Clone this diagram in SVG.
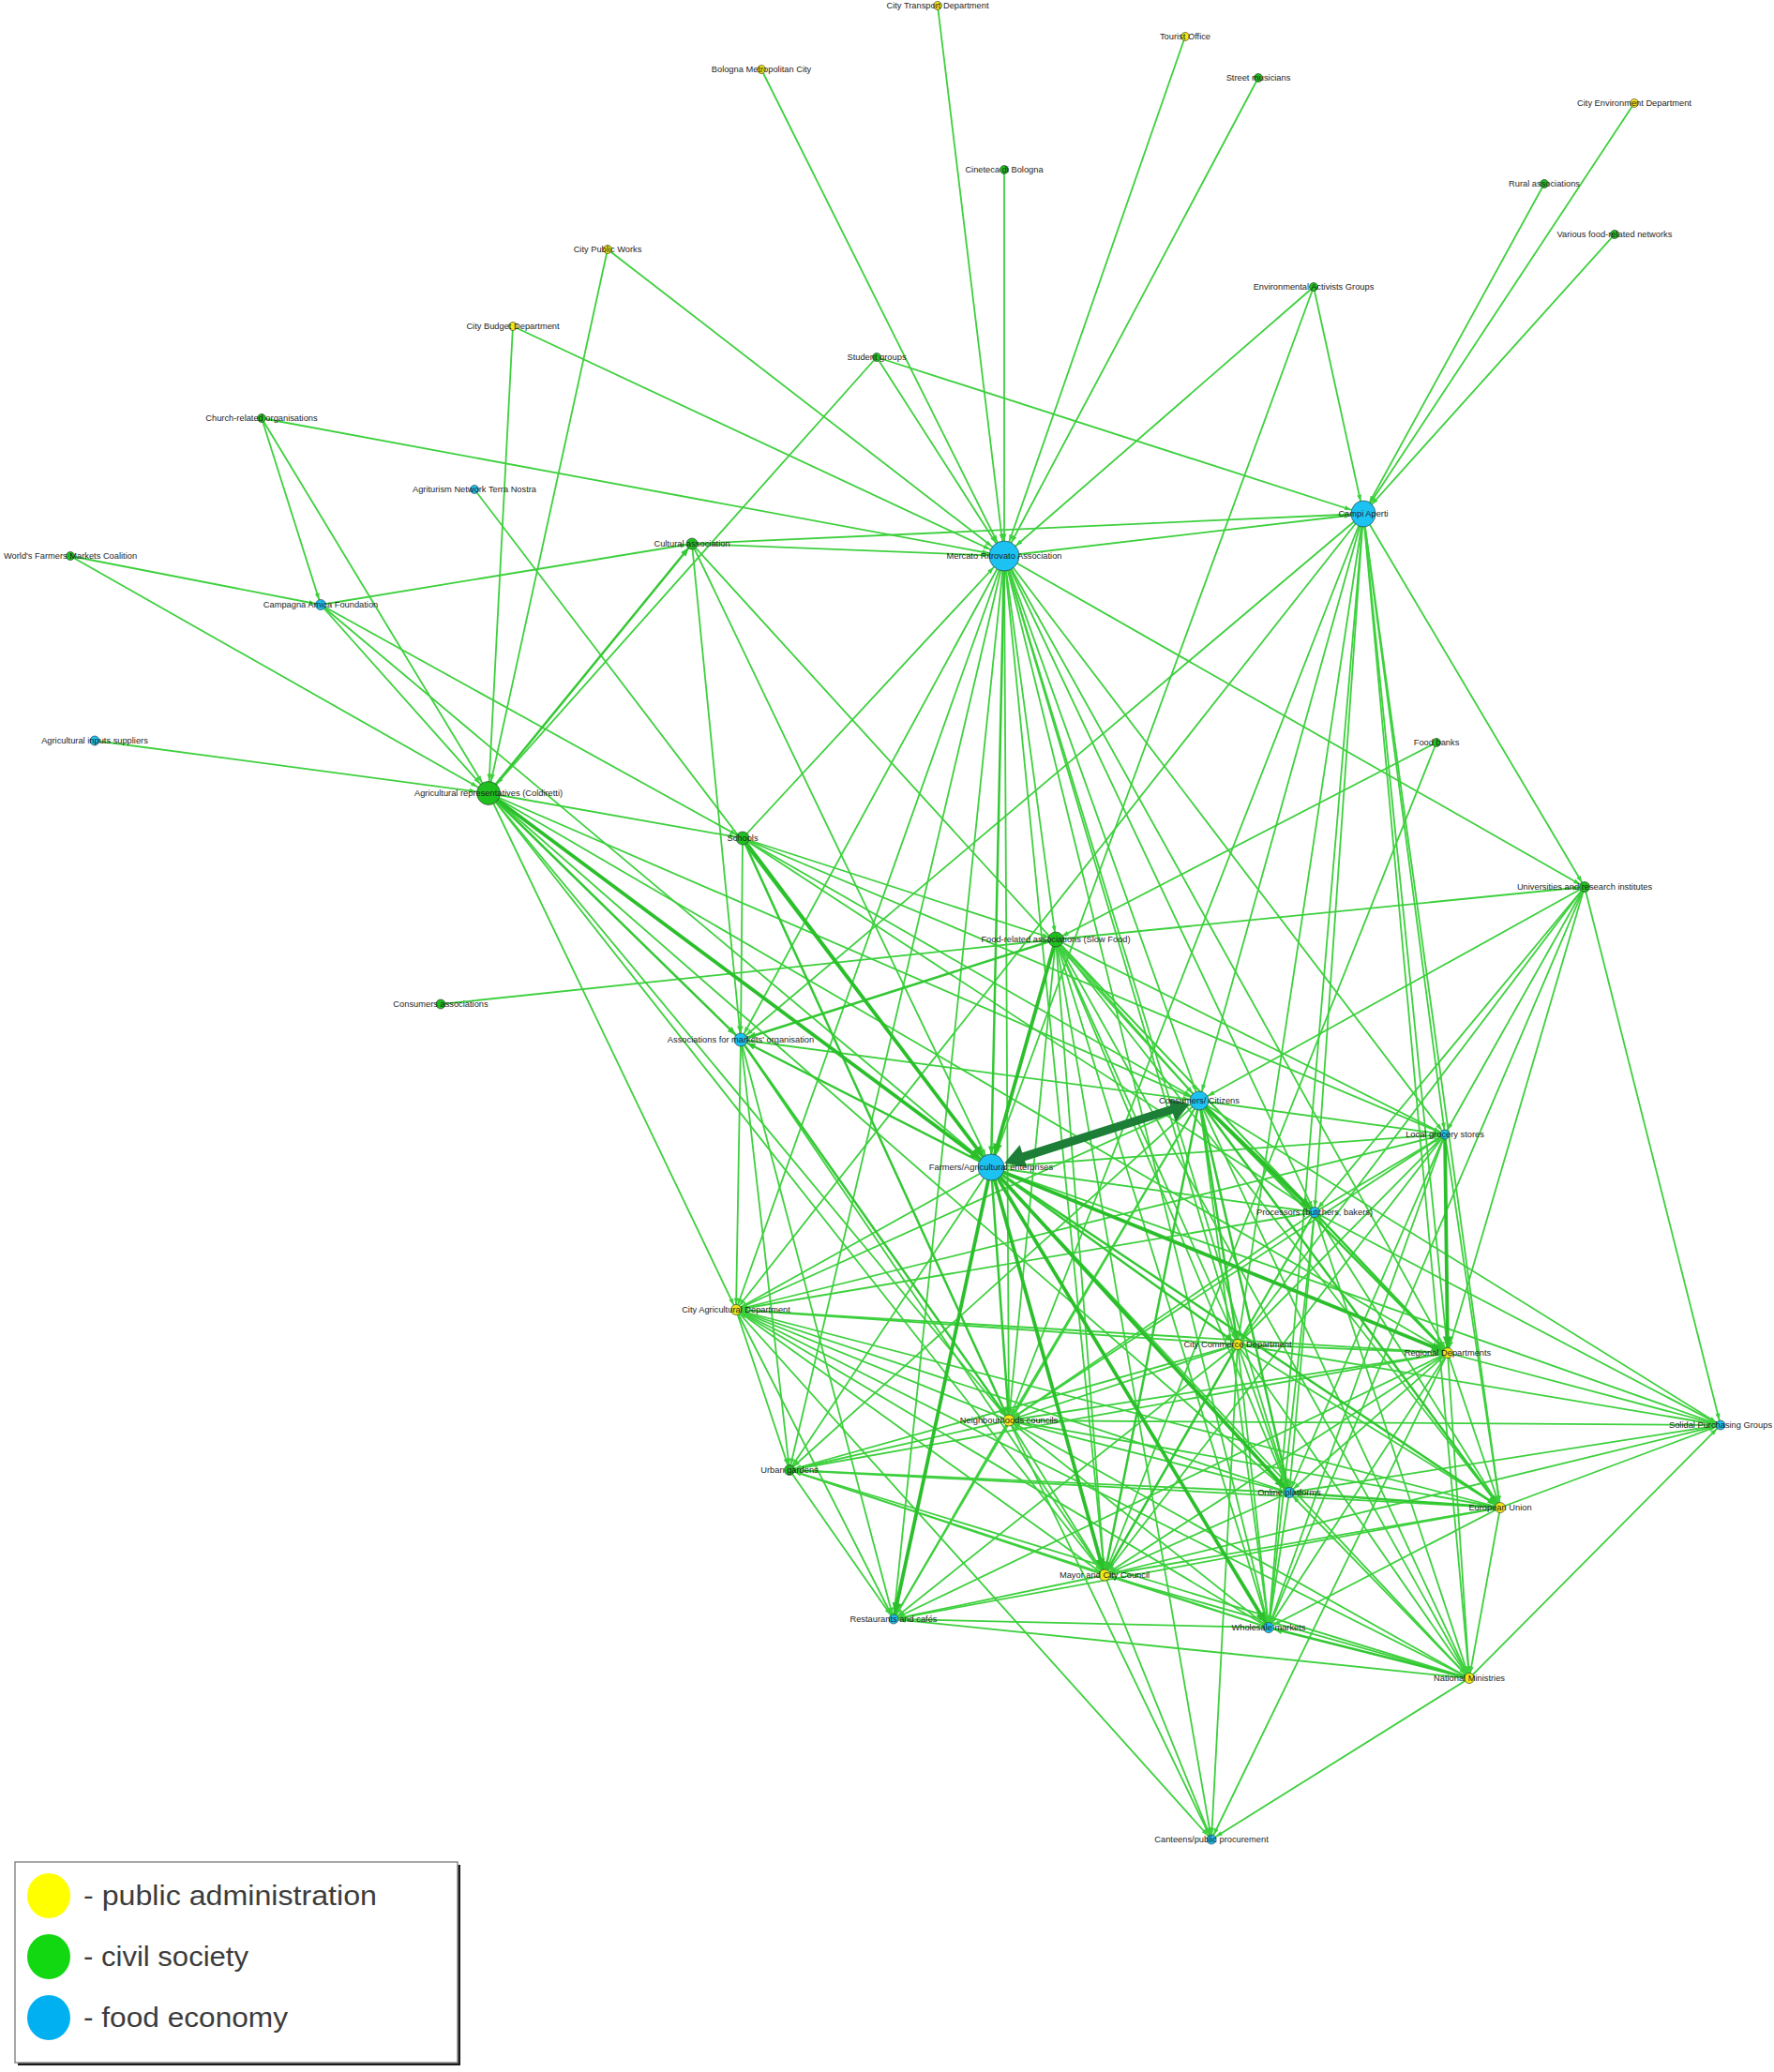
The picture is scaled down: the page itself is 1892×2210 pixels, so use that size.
<svg xmlns="http://www.w3.org/2000/svg" width="1892" height="2210" viewBox="0 0 1892 2210">
<defs>
<style>
.t{stroke:#3dd03d;stroke-width:1.8;fill:none}
.m{stroke:#33c833;stroke-width:2.5;fill:none}
.k{stroke:#2cbf2c;stroke-width:3.8;fill:none}
.n circle{stroke:#2d2d2d;stroke-width:0.6}
.y{fill:#f2e818}
.g{fill:#1fbf1f}
.b{fill:#1cc2f2}
.n text{font-family:"Liberation Sans",Arial,sans-serif;font-size:9.3px;fill:#1e1e1e;text-anchor:middle}
.lg{font-family:"Liberation Sans",Arial,sans-serif;font-size:30px;fill:#3c3c3c}
</style>
<marker id="a5" markerUnits="userSpaceOnUse" markerWidth="7" markerHeight="5" refX="12.5" refY="2.5" orient="auto" overflow="visible"><path d="M0,0 L7,2.5 L0,5 z" fill="#3dd03d"/></marker>
<marker id="a7" markerUnits="userSpaceOnUse" markerWidth="7" markerHeight="5" refX="14.5" refY="2.5" orient="auto" overflow="visible"><path d="M0,0 L7,2.5 L0,5 z" fill="#3dd03d"/></marker>
<marker id="a10" markerUnits="userSpaceOnUse" markerWidth="7" markerHeight="5" refX="17.5" refY="2.5" orient="auto" overflow="visible"><path d="M0,0 L7,2.5 L0,5 z" fill="#3dd03d"/></marker>
<marker id="a13" markerUnits="userSpaceOnUse" markerWidth="7" markerHeight="5" refX="20.5" refY="2.5" orient="auto" overflow="visible"><path d="M0,0 L7,2.5 L0,5 z" fill="#3dd03d"/></marker>
<marker id="a16" markerUnits="userSpaceOnUse" markerWidth="7" markerHeight="5" refX="23.5" refY="2.5" orient="auto" overflow="visible"><path d="M0,0 L7,2.5 L0,5 z" fill="#3dd03d"/></marker>
<marker id="c5" markerUnits="userSpaceOnUse" markerWidth="9" markerHeight="7" refX="14.5" refY="3.5" orient="auto" overflow="visible"><path d="M0,0 L9,3.5 L0,7 z" fill="#33c833"/></marker>
<marker id="c7" markerUnits="userSpaceOnUse" markerWidth="9" markerHeight="7" refX="16.5" refY="3.5" orient="auto" overflow="visible"><path d="M0,0 L9,3.5 L0,7 z" fill="#33c833"/></marker>
<marker id="c13" markerUnits="userSpaceOnUse" markerWidth="9" markerHeight="7" refX="22.5" refY="3.5" orient="auto" overflow="visible"><path d="M0,0 L9,3.5 L0,7 z" fill="#33c833"/></marker>
<marker id="b5" markerUnits="userSpaceOnUse" markerWidth="12" markerHeight="10" refX="17.5" refY="5" orient="auto" overflow="visible"><path d="M0,0 L12,5 L0,10 z" fill="#2cbf2c"/></marker>
<marker id="b13" markerUnits="userSpaceOnUse" markerWidth="12" markerHeight="10" refX="25.5" refY="5" orient="auto" overflow="visible"><path d="M0,0 L12,5 L0,10 z" fill="#2cbf2c"/></marker>
</defs>
<rect width="1892" height="2210" fill="#ffffff"/>

<g id="connectors">
<g class="t" marker-end="url(#a16)">
<line x1="1000" y1="6" x2="1071" y2="593"/>
<line x1="1264" y1="39" x2="1071" y2="593"/>
<line x1="812" y1="74" x2="1071" y2="593"/>
<line x1="1342" y1="83" x2="1071" y2="593"/>
<line x1="1071" y1="181" x2="1071" y2="593"/>
<line x1="648" y1="266" x2="1071" y2="593"/>
<line x1="547" y1="348" x2="1071" y2="593"/>
<line x1="279" y1="446" x2="1071" y2="593"/>
<line x1="935" y1="381" x2="1071" y2="593"/>
<line x1="1401" y1="306" x2="1071" y2="593"/>
<line x1="738" y1="580" x2="1071" y2="593"/>
<line x1="792" y1="894" x2="1071" y2="593"/>
</g>
<g class="t" marker-end="url(#a13)">
<line x1="648" y1="266" x2="521" y2="846"/>
<line x1="547" y1="348" x2="521" y2="846"/>
<line x1="279" y1="446" x2="521" y2="846"/>
<line x1="935" y1="381" x2="521" y2="846"/>
<line x1="75" y1="593" x2="521" y2="846"/>
<line x1="101" y1="790" x2="521" y2="846"/>
<line x1="342" y1="645" x2="521" y2="846"/>
<line x1="935" y1="381" x2="1454" y2="548"/>
<line x1="1743" y1="110" x2="1454" y2="548"/>
<line x1="1647" y1="196" x2="1454" y2="548"/>
<line x1="1722" y1="250" x2="1454" y2="548"/>
<line x1="1401" y1="306" x2="1454" y2="548"/>
<line x1="738" y1="580" x2="1454" y2="548"/>
<line x1="1071" y1="593" x2="1454" y2="548"/>
<line x1="506" y1="522" x2="1057" y2="1245"/>
<line x1="1401" y1="306" x2="1057" y2="1245"/>
<line x1="342" y1="645" x2="1057" y2="1245"/>
<line x1="738" y1="580" x2="1057" y2="1245"/>
</g>
<g class="t" marker-end="url(#a10)">
<line x1="738" y1="580" x2="1279" y2="1174"/>
<line x1="792" y1="894" x2="1279" y2="1174"/>
<line x1="521" y1="846" x2="1279" y2="1174"/>
<line x1="1454" y1="548" x2="1279" y2="1174"/>
<line x1="1071" y1="593" x2="1279" y2="1174"/>
<line x1="1126" y1="1002" x2="1279" y2="1174"/>
<line x1="1690" y1="946" x2="1279" y2="1174"/>
<line x1="790" y1="1109" x2="1279" y2="1174"/>
</g>
<g class="t" marker-end="url(#a7)">
<line x1="521" y1="846" x2="792" y2="894"/>
<line x1="342" y1="645" x2="792" y2="894"/>
<line x1="738" y1="580" x2="790" y2="1109"/>
<line x1="792" y1="894" x2="790" y2="1109"/>
<line x1="1454" y1="548" x2="790" y2="1109"/>
<line x1="1071" y1="593" x2="790" y2="1109"/>
<line x1="470" y1="1071" x2="1126" y2="1002"/>
<line x1="1532" y1="792" x2="1126" y2="1002"/>
<line x1="792" y1="894" x2="1126" y2="1002"/>
<line x1="1071" y1="593" x2="1126" y2="1002"/>
</g>
<g class="t" marker-end="url(#a5)">
<line x1="279" y1="446" x2="342" y2="645"/>
<line x1="75" y1="593" x2="342" y2="645"/>
<line x1="342" y1="645" x2="738" y2="580"/>
<line x1="1532" y1="792" x2="1178" y2="1680"/>
<line x1="1071" y1="593" x2="1690" y2="946"/>
<line x1="792" y1="894" x2="1402" y2="1293"/>
<line x1="792" y1="894" x2="1541" y2="1210"/>
<line x1="521" y1="846" x2="1544" y2="1443"/>
<line x1="521" y1="846" x2="1375" y2="1592"/>
<line x1="521" y1="846" x2="1076" y2="1515"/>
<line x1="521" y1="846" x2="1178" y2="1680"/>
<line x1="521" y1="846" x2="785" y2="1397"/>
<line x1="1454" y1="548" x2="785" y2="1397"/>
<line x1="1454" y1="548" x2="1076" y2="1515"/>
<line x1="1454" y1="548" x2="1320" y2="1434"/>
<line x1="1454" y1="548" x2="1353" y2="1736"/>
<line x1="1454" y1="548" x2="1402" y2="1293"/>
<line x1="1454" y1="548" x2="1544" y2="1443"/>
<line x1="1454" y1="548" x2="1541" y2="1210"/>
<line x1="1454" y1="548" x2="1600" y2="1608"/>
<line x1="1454" y1="548" x2="1690" y2="946"/>
<line x1="1454" y1="548" x2="1567" y2="1790"/>
<line x1="1071" y1="593" x2="785" y2="1397"/>
<line x1="1071" y1="593" x2="842" y2="1568"/>
<line x1="1071" y1="593" x2="1076" y2="1515"/>
<line x1="1071" y1="593" x2="1178" y2="1680"/>
<line x1="1071" y1="593" x2="1402" y2="1293"/>
<line x1="1071" y1="593" x2="1320" y2="1434"/>
<line x1="1071" y1="593" x2="1375" y2="1592"/>
<line x1="1071" y1="593" x2="1353" y2="1736"/>
<line x1="1071" y1="593" x2="1541" y2="1210"/>
<line x1="1071" y1="593" x2="1544" y2="1443"/>
<line x1="1071" y1="593" x2="953" y2="1727"/>
<line x1="1126" y1="1002" x2="1402" y2="1293"/>
<line x1="1126" y1="1002" x2="1541" y2="1210"/>
<line x1="1126" y1="1002" x2="1320" y2="1434"/>
<line x1="1126" y1="1002" x2="1544" y2="1443"/>
<line x1="1126" y1="1002" x2="1375" y2="1592"/>
<line x1="1126" y1="1002" x2="1600" y2="1608"/>
<line x1="1126" y1="1002" x2="1567" y2="1790"/>
<line x1="1126" y1="1002" x2="1178" y2="1680"/>
<line x1="1126" y1="1002" x2="1353" y2="1736"/>
<line x1="1126" y1="1002" x2="1076" y2="1515"/>
<line x1="1126" y1="1002" x2="1690" y2="946"/>
<line x1="1126" y1="1002" x2="1292" y2="1962"/>
<line x1="1690" y1="946" x2="1402" y2="1293"/>
<line x1="1690" y1="946" x2="1541" y2="1210"/>
<line x1="1690" y1="946" x2="1353" y2="1736"/>
<line x1="1690" y1="946" x2="1544" y2="1443"/>
<line x1="1690" y1="946" x2="1835" y2="1520"/>
<line x1="1690" y1="946" x2="1320" y2="1434"/>
<line x1="790" y1="1109" x2="785" y2="1397"/>
<line x1="790" y1="1109" x2="842" y2="1568"/>
<line x1="790" y1="1109" x2="953" y2="1727"/>
<line x1="790" y1="1109" x2="1178" y2="1680"/>
<line x1="1057" y1="1245" x2="1541" y2="1210"/>
<line x1="1057" y1="1245" x2="1567" y2="1790"/>
<line x1="1057" y1="1245" x2="1402" y2="1293"/>
<line x1="1057" y1="1245" x2="785" y2="1397"/>
<line x1="1057" y1="1245" x2="842" y2="1568"/>
<line x1="1057" y1="1245" x2="1835" y2="1520"/>
<line x1="1279" y1="1174" x2="1541" y2="1210"/>
<line x1="1279" y1="1174" x2="1353" y2="1736"/>
<line x1="1279" y1="1174" x2="1076" y2="1515"/>
<line x1="1279" y1="1174" x2="785" y2="1397"/>
<line x1="1279" y1="1174" x2="842" y2="1568"/>
<line x1="1279" y1="1174" x2="1835" y2="1520"/>
<line x1="1279" y1="1174" x2="953" y2="1727"/>
<line x1="1279" y1="1174" x2="1567" y2="1790"/>
<line x1="1402" y1="1293" x2="1541" y2="1210"/>
<line x1="1402" y1="1293" x2="1320" y2="1434"/>
<line x1="1402" y1="1293" x2="1375" y2="1592"/>
<line x1="1402" y1="1293" x2="1353" y2="1736"/>
<line x1="1402" y1="1293" x2="1178" y2="1680"/>
<line x1="1402" y1="1293" x2="1567" y2="1790"/>
<line x1="1402" y1="1293" x2="1600" y2="1608"/>
<line x1="1402" y1="1293" x2="1076" y2="1515"/>
<line x1="1402" y1="1293" x2="1835" y2="1520"/>
<line x1="1402" y1="1293" x2="785" y2="1397"/>
<line x1="1541" y1="1210" x2="1600" y2="1608"/>
<line x1="1541" y1="1210" x2="1320" y2="1434"/>
<line x1="1541" y1="1210" x2="1375" y2="1592"/>
<line x1="1541" y1="1210" x2="1178" y2="1680"/>
<line x1="1541" y1="1210" x2="1076" y2="1515"/>
<line x1="1541" y1="1210" x2="1353" y2="1736"/>
<line x1="1541" y1="1210" x2="785" y2="1397"/>
<line x1="1320" y1="1434" x2="1544" y2="1443"/>
<line x1="1320" y1="1434" x2="1600" y2="1608"/>
<line x1="1320" y1="1434" x2="1567" y2="1790"/>
<line x1="1320" y1="1434" x2="1375" y2="1592"/>
<line x1="1320" y1="1434" x2="1353" y2="1736"/>
<line x1="1320" y1="1434" x2="1076" y2="1515"/>
<line x1="1320" y1="1434" x2="785" y2="1397"/>
<line x1="1320" y1="1434" x2="842" y2="1568"/>
<line x1="1320" y1="1434" x2="953" y2="1727"/>
<line x1="1320" y1="1434" x2="1835" y2="1520"/>
<line x1="1320" y1="1434" x2="1292" y2="1962"/>
<line x1="1544" y1="1443" x2="1600" y2="1608"/>
<line x1="1544" y1="1443" x2="1567" y2="1790"/>
<line x1="1544" y1="1443" x2="1375" y2="1592"/>
<line x1="1544" y1="1443" x2="1353" y2="1736"/>
<line x1="1544" y1="1443" x2="1178" y2="1680"/>
<line x1="1544" y1="1443" x2="1076" y2="1515"/>
<line x1="1544" y1="1443" x2="785" y2="1397"/>
<line x1="1544" y1="1443" x2="842" y2="1568"/>
<line x1="1544" y1="1443" x2="1835" y2="1520"/>
<line x1="1544" y1="1443" x2="1292" y2="1962"/>
<line x1="1544" y1="1443" x2="953" y2="1727"/>
<line x1="1600" y1="1608" x2="1353" y2="1736"/>
<line x1="1600" y1="1608" x2="1178" y2="1680"/>
<line x1="1600" y1="1608" x2="1076" y2="1515"/>
<line x1="1600" y1="1608" x2="1567" y2="1790"/>
<line x1="1600" y1="1608" x2="1835" y2="1520"/>
<line x1="1600" y1="1608" x2="842" y2="1568"/>
<line x1="1600" y1="1608" x2="953" y2="1727"/>
<line x1="1600" y1="1608" x2="785" y2="1397"/>
<line x1="1567" y1="1790" x2="1375" y2="1592"/>
<line x1="1567" y1="1790" x2="1178" y2="1680"/>
<line x1="1567" y1="1790" x2="1076" y2="1515"/>
<line x1="1567" y1="1790" x2="842" y2="1568"/>
<line x1="1567" y1="1790" x2="953" y2="1727"/>
<line x1="1567" y1="1790" x2="1835" y2="1520"/>
<line x1="1567" y1="1790" x2="1292" y2="1962"/>
<line x1="1567" y1="1790" x2="785" y2="1397"/>
<line x1="1375" y1="1592" x2="1353" y2="1736"/>
<line x1="1375" y1="1592" x2="1178" y2="1680"/>
<line x1="1375" y1="1592" x2="1076" y2="1515"/>
<line x1="1375" y1="1592" x2="785" y2="1397"/>
<line x1="1375" y1="1592" x2="842" y2="1568"/>
<line x1="1375" y1="1592" x2="1835" y2="1520"/>
<line x1="1353" y1="1736" x2="1178" y2="1680"/>
<line x1="1353" y1="1736" x2="1076" y2="1515"/>
<line x1="1353" y1="1736" x2="785" y2="1397"/>
<line x1="1353" y1="1736" x2="842" y2="1568"/>
<line x1="1353" y1="1736" x2="953" y2="1727"/>
<line x1="1178" y1="1680" x2="1076" y2="1515"/>
<line x1="1178" y1="1680" x2="785" y2="1397"/>
<line x1="1178" y1="1680" x2="842" y2="1568"/>
<line x1="1178" y1="1680" x2="953" y2="1727"/>
<line x1="1178" y1="1680" x2="1835" y2="1520"/>
<line x1="1178" y1="1680" x2="1292" y2="1962"/>
<line x1="1076" y1="1515" x2="785" y2="1397"/>
<line x1="1076" y1="1515" x2="842" y2="1568"/>
<line x1="1076" y1="1515" x2="953" y2="1727"/>
<line x1="1076" y1="1515" x2="1835" y2="1520"/>
<line x1="1076" y1="1515" x2="1292" y2="1962"/>
<line x1="785" y1="1397" x2="842" y2="1568"/>
<line x1="785" y1="1397" x2="953" y2="1727"/>
<line x1="785" y1="1397" x2="1292" y2="1962"/>
<line x1="842" y1="1568" x2="953" y2="1727"/>
</g>
<g class="m" marker-end="url(#c5)">
<line x1="521" y1="846" x2="738" y2="580"/>
<line x1="792" y1="894" x2="1076" y2="1515"/>
<line x1="790" y1="1109" x2="1076" y2="1515"/>
<line x1="1057" y1="1245" x2="1600" y2="1608"/>
<line x1="1057" y1="1245" x2="1076" y2="1515"/>
<line x1="1057" y1="1245" x2="1320" y2="1434"/>
<line x1="1279" y1="1174" x2="1375" y2="1592"/>
<line x1="1279" y1="1174" x2="1178" y2="1680"/>
<line x1="1279" y1="1174" x2="1320" y2="1434"/>
<line x1="1279" y1="1174" x2="1544" y2="1443"/>
<line x1="1279" y1="1174" x2="1600" y2="1608"/>
<line x1="1402" y1="1293" x2="1544" y2="1443"/>
<line x1="1320" y1="1434" x2="1178" y2="1680"/>
<line x1="1600" y1="1608" x2="1375" y2="1592"/>
<line x1="1567" y1="1790" x2="1353" y2="1736"/>
</g>
<g class="m" marker-end="url(#c7)">
<line x1="521" y1="846" x2="790" y2="1109"/>
<line x1="1126" y1="1002" x2="790" y2="1109"/>
<line x1="1057" y1="1245" x2="790" y2="1109"/>
</g>
<g class="m" marker-end="url(#c13)">
<line x1="1071" y1="593" x2="1057" y2="1245"/>
</g>
<g class="k" marker-end="url(#b13)">
<line x1="792" y1="894" x2="1057" y2="1245"/>
<line x1="521" y1="846" x2="1057" y2="1245"/>
<line x1="1126" y1="1002" x2="1057" y2="1245"/>
</g>
<g class="k" marker-end="url(#b5)">
<line x1="1057" y1="1245" x2="953" y2="1727"/>
<line x1="1057" y1="1245" x2="1178" y2="1680"/>
<line x1="1057" y1="1245" x2="1353" y2="1736"/>
<line x1="1057" y1="1245" x2="1375" y2="1592"/>
<line x1="1057" y1="1245" x2="1544" y2="1443"/>
<line x1="1541" y1="1210" x2="1544" y2="1443"/>
<line x1="1279" y1="1174" x2="1402" y2="1293"/>
</g>
<g id="strong-tie">
<line x1="1089" y1="1234.6" x2="1250.8" y2="1183" stroke="#1c7e37" stroke-width="9"/>
<polygon points="1071.3,1240.4 1095.2,1245.0 1087.6,1221.2" fill="#1c7e37"/>
<polygon points="1268.5,1177.4 1246.1,1172.3 1253.9,1196.6" fill="#1c7e37"/>
</g>
</g>

<g id="nodes">
<g id="n-ctd" class="n"><circle class="y" cx="1000" cy="6" r="4.5"/><text x="1000" y="9">City Transport Department</text></g>
<g id="n-to" class="n"><circle class="y" cx="1264" cy="39" r="4.5"/><text x="1264" y="42">Tourist Office</text></g>
<g id="n-bmc" class="n"><circle class="y" cx="812" cy="74" r="4.5"/><text x="812" y="77">Bologna Metropolitan City</text></g>
<g id="n-sm" class="n"><circle class="g" cx="1342" cy="83" r="4.5"/><text x="1342" y="86">Street musicians</text></g>
<g id="n-ced" class="n"><circle class="y" cx="1743" cy="110" r="4.5"/><text x="1743" y="113">City Environment Department</text></g>
<g id="n-cb" class="n"><circle class="g" cx="1071" cy="181" r="4.5"/><text x="1071" y="184">Cineteca di Bologna</text></g>
<g id="n-ra" class="n"><circle class="g" cx="1647" cy="196" r="4.5"/><text x="1647" y="199">Rural associations</text></g>
<g id="n-vfn" class="n"><circle class="g" cx="1722" cy="250" r="4.5"/><text x="1722" y="253">Various food-related networks</text></g>
<g id="n-cpw" class="n"><circle class="y" cx="648" cy="266" r="4.5"/><text x="648" y="269">City Public Works</text></g>
<g id="n-eag" class="n"><circle class="g" cx="1401" cy="306" r="4.5"/><text x="1401" y="309">Environmental Activists Groups</text></g>
<g id="n-cbd" class="n"><circle class="y" cx="547" cy="348" r="4.5"/><text x="547" y="351">City Budget Department</text></g>
<g id="n-sg" class="n"><circle class="g" cx="935" cy="381" r="4.5"/><text x="935" y="384">Student groups</text></g>
<g id="n-cro" class="n"><circle class="g" cx="279" cy="446" r="4.5"/><text x="279" y="449">Church-related organisations</text></g>
<g id="n-ant" class="n"><circle class="b" cx="506" cy="522" r="4.5"/><text x="506" y="525">Agriturism Network Terra Nostra</text></g>
<g id="n-ca" class="n"><ellipse class="b" cx="1454" cy="548" rx="13" ry="14" stroke="#2d2d2d" stroke-width="0.6"/><text x="1454" y="551">Campi Aperti</text></g>
<g id="n-wfmc" class="n"><circle class="g" cx="75" cy="593" r="4.5"/><text x="75" y="596">World's Farmers Markets Coalition</text></g>
<g id="n-cul" class="n"><circle class="g" cx="738" cy="580" r="6"/><text x="738" y="583">Cultural association</text></g>
<g id="n-mr" class="n"><circle class="b" cx="1071" cy="593" r="16"/><text x="1071" y="596">Mercato Ritrovato Association</text></g>
<g id="n-caf" class="n"><circle class="b" cx="342" cy="645" r="5.5"/><text x="342" y="648">Campagna Amica Foundation</text></g>
<g id="n-ais" class="n"><circle class="b" cx="101" cy="790" r="5"/><text x="101" y="793">Agricultural inputs suppliers</text></g>
<g id="n-fb" class="n"><circle class="g" cx="1532" cy="792" r="4.5"/><text x="1532" y="795">Food banks</text></g>
<g id="n-col" class="n"><circle class="g" cx="521" cy="846" r="12.5"/><text x="521" y="849">Agricultural representatives (Coldiretti)</text></g>
<g id="n-sch" class="n"><circle class="g" cx="792" cy="894" r="7"/><text x="792" y="897">Schools</text></g>
<g id="n-uni" class="n"><circle class="g" cx="1690" cy="946" r="5.5"/><text x="1690" y="949">Universities and research institutes</text></g>
<g id="n-sf" class="n"><circle class="g" cx="1126" cy="1002" r="8"/><text x="1126" y="1005">Food-related associations (Slow Food)</text></g>
<g id="n-cas" class="n"><circle class="g" cx="470" cy="1071" r="5"/><text x="470" y="1074">Consumers associations</text></g>
<g id="n-amo" class="n"><circle class="b" cx="790" cy="1109" r="7"/><text x="790" y="1112">Associations for markets' organisation</text></g>
<g id="n-cc" class="n"><circle class="b" cx="1279" cy="1174" r="10"/><text x="1279" y="1177">Consumers/ Citizens</text></g>
<g id="n-lgs" class="n"><circle class="b" cx="1541" cy="1210" r="5"/><text x="1541" y="1213">Local grocery stores</text></g>
<g id="n-fae" class="n"><circle class="b" cx="1057" cy="1245" r="14"/><text x="1057" y="1248">Farmers/Agricultural enterprises</text></g>
<g id="n-proc" class="n"><circle class="b" cx="1402" cy="1293" r="5.5"/><text x="1402" y="1296">Processors (butchers, bakers)</text></g>
<g id="n-cad" class="n"><circle class="y" cx="785" cy="1397" r="5.5"/><text x="785" y="1400">City Agricultural Department</text></g>
<g id="n-ccd" class="n"><circle class="y" cx="1320" cy="1434" r="5.5"/><text x="1320" y="1437">City Commerce Department</text></g>
<g id="n-rd" class="n"><circle class="y" cx="1544" cy="1443" r="5.5"/><text x="1544" y="1446">Regional Departments</text></g>
<g id="n-nc" class="n"><circle class="y" cx="1076" cy="1515" r="6"/><text x="1076" y="1518">Neighbourhoods councils</text></g>
<g id="n-spg" class="n"><circle class="b" cx="1835" cy="1520" r="5"/><text x="1835" y="1523">Solidal Purchasing Groups</text></g>
<g id="n-ug" class="n"><circle class="g" cx="842" cy="1568" r="5.5"/><text x="842" y="1571">Urban gardens</text></g>
<g id="n-op" class="n"><circle class="b" cx="1375" cy="1592" r="5.5"/><text x="1375" y="1595">Online platforms</text></g>
<g id="n-eu" class="n"><circle class="y" cx="1600" cy="1608" r="5.5"/><text x="1600" y="1611">European Union</text></g>
<g id="n-mcc" class="n"><circle class="y" cx="1178" cy="1680" r="6"/><text x="1178" y="1683">Mayor and City Council</text></g>
<g id="n-rc" class="n"><circle class="b" cx="953" cy="1727" r="5"/><text x="953" y="1730">Restaurants and cafés</text></g>
<g id="n-wm" class="n"><circle class="b" cx="1353" cy="1736" r="5.5"/><text x="1353" y="1739">Wholesale markets</text></g>
<g id="n-nm" class="n"><circle class="y" cx="1567" cy="1790" r="5.5"/><text x="1567" y="1793">National Ministries</text></g>
<g id="n-cpp" class="n"><circle class="b" cx="1292" cy="1962" r="5"/><text x="1292" y="1965">Canteens/public procurement</text></g>
</g>

<g id="legend">
<rect x="19" y="1989" width="472" height="214" fill="#1a1a1a"/>
<rect x="16" y="1986" width="472" height="214" fill="#ffffff" stroke="#8a8a8a" stroke-width="1.5"/>
<ellipse cx="52" cy="2022" rx="23" ry="24" fill="#ffff00"/>
<ellipse cx="52" cy="2087" rx="23" ry="24" fill="#12d812"/>
<ellipse cx="52" cy="2152" rx="23" ry="24" fill="#00b0f0"/>
<text class="lg" x="89" y="2032" textLength="313" lengthAdjust="spacingAndGlyphs">- public administration</text>
<text class="lg" x="89" y="2097" textLength="176" lengthAdjust="spacingAndGlyphs">- civil society</text>
<text class="lg" x="89" y="2162" textLength="218" lengthAdjust="spacingAndGlyphs">- food economy</text>
</g>
</svg>
